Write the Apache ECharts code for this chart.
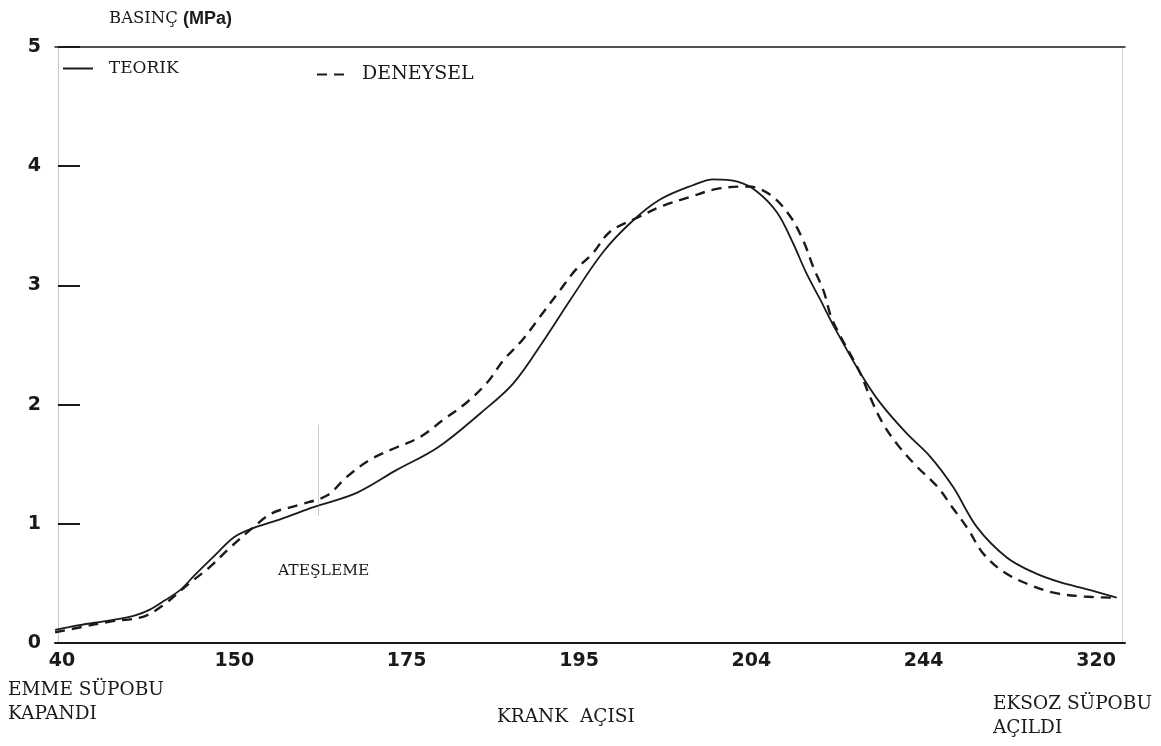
<!DOCTYPE html>
<html>
<head>
<meta charset="utf-8">
<script src="https://cdn.jsdelivr.net/npm/echarts@6/dist/echarts.min.js"></script>
<style>
html,body{margin:0;padding:0;background:#fff;}
#chart{width:1161px;height:746px;}
</style>
</head>
<body>
<div id="chart"></div>
<script>
// x positions are slot indices of the (non-linear) crank-angle tick labels
const xTickLabels = ['40', '150', '175', '195', '204', '244', '320'];
const yTicks = [0, 1, 2, 3, 4, 5];

const teorikX = [-0.04, 0.10, 0.28, 0.42, 0.51, 0.60, 0.69, 0.77, 0.89, 1.00, 1.12, 1.27, 1.46, 1.71, 1.94, 2.18, 2.43, 2.62, 2.81, 2.95, 3.14, 3.31, 3.47, 3.66, 3.78, 3.92, 4.03, 4.15, 4.24, 4.32, 4.40, 4.47, 4.63, 4.75, 4.90, 5.04, 5.17, 5.31, 5.48, 5.64, 5.79, 5.95, 6.12];
const teorikY = [0.11, 0.15, 0.19, 0.23, 0.28, 0.36, 0.45, 0.57, 0.74, 0.89, 0.97, 1.04, 1.14, 1.26, 1.45, 1.64, 1.93, 2.18, 2.57, 2.88, 3.28, 3.54, 3.72, 3.84, 3.89, 3.87, 3.79, 3.61, 3.36, 3.10, 2.88, 2.68, 2.27, 2.01, 1.76, 1.56, 1.31, 0.97, 0.72, 0.59, 0.51, 0.45, 0.38];

const deneyselX = [-0.04, 0.10, 0.28, 0.47, 0.59, 0.73, 0.86, 0.96, 1.11, 1.22, 1.38, 1.54, 1.65, 1.79, 1.94, 2.08, 2.21, 2.35, 2.47, 2.56, 2.67, 2.77, 2.89, 2.98, 3.08, 3.18, 3.34, 3.49, 3.64, 3.80, 3.98, 4.11, 4.22, 4.30, 4.36, 4.42, 4.47, 4.63, 4.69, 4.76, 4.85, 4.96, 5.08, 5.17, 5.26, 5.34, 5.46, 5.61, 5.76, 5.93, 6.10];
const deneyselY = [0.09, 0.13, 0.18, 0.22, 0.32, 0.49, 0.64, 0.78, 0.97, 1.09, 1.16, 1.24, 1.39, 1.54, 1.64, 1.73, 1.87, 2.02, 2.19, 2.37, 2.54, 2.73, 2.96, 3.13, 3.27, 3.45, 3.57, 3.67, 3.74, 3.81, 3.83, 3.76, 3.59, 3.38, 3.15, 2.95, 2.71, 2.27, 2.06, 1.85, 1.66, 1.48, 1.31, 1.13, 0.95, 0.76, 0.60, 0.49, 0.42, 0.39, 0.38];

// ignition marker (ATEŞLEME)
const ignitionX = 1.486;
const ignitionYRange = [1.07, 1.83];

const zip = (xs, ys) => xs.map((x, i) => [x, ys[i]]);

const serif = '"DejaVu Serif", "Liberation Serif", serif';
const sans = '"DejaVu Sans", "Liberation Sans", sans-serif';
const ink = '#1a1a1a';

const chart = echarts.init(document.getElementById('chart'));
chart.setOption({
  backgroundColor: '#ffffff',
  animation: false,
  title: {
    text: '{a|BASINÇ} {b|(MPa)}',
    left: 104, top: 5,
    textStyle: {
      fontWeight: 'normal',
      rich: {
        a: {fontFamily: serif, fontSize: 16.5, fontWeight: 'normal', color: ink},
        b: {fontFamily: '"Liberation Sans", Arial, sans-serif', fontSize: 18, fontWeight: 'bold', color: ink}
      }
    }
  },
  legend: [
    {
      data: ['TEORIK'], left: 62, top: 60, padding: 0, itemWidth: 30, itemHeight: 14,
      itemStyle: {opacity: 0},
      formatter: n => '  ' + n,
      textStyle: {fontFamily: serif, fontSize: 17, color: ink}
    },
    {
      data: ['DENEYSEL'], left: 316, top: 65, padding: 0, itemWidth: 34, itemHeight: 14,
      itemStyle: {opacity: 0},
      formatter: n => ' ' + n,
      textStyle: {fontFamily: serif, fontSize: 19, color: ink}
    }
  ],
  grid: {left: 55, right: 36, top: 47, bottom: 103},
  xAxis: [
    {
      type: 'value', min: -0.0406, max: 6.168,
      axisLine: {show: true, onZero: false, lineStyle: {color: ink, width: 2}},
      axisTick: {show: false},
      splitLine: {show: false},
      axisLabel: {
        customValues: [0, 1, 2, 3, 4, 5, 6],
        formatter: v => xTickLabels[Math.round(v)],
        margin: 9,
        fontFamily: sans, fontSize: 19, fontWeight: 'bold', color: ink
      }
    },
    {
      type: 'value', position: 'top', min: -0.0406, max: 6.168,
      axisLine: {show: true, onZero: false, lineStyle: {color: ink, width: 1.5}},
      axisTick: {show: false}, axisLabel: {show: false}, splitLine: {show: false}
    }
  ],
  yAxis: [
    {
      type: 'value', min: 0, max: 5, interval: 1, offset: -3,
      axisLine: {show: true, onZero: false, lineStyle: {color: '#bbb', width: 1, type: 'dotted'}},
      axisTick: {show: true, inside: true, length: 22, lineStyle: {color: ink, width: 2}},
      splitLine: {show: false},
      axisLabel: {
        margin: 17,
        formatter: v => (yTicks.indexOf(v) >= 0 ? String(v) : ''),
        fontFamily: sans, fontSize: 19, fontWeight: 'bold', color: ink
      }
    },
    {
      type: 'value', position: 'right', min: 0, max: 5, interval: 1, offset: -3,
      axisLine: {show: true, onZero: false, lineStyle: {color: '#ccc', width: 1, type: 'dotted'}},
      axisTick: {show: false}, axisLabel: {show: false}, splitLine: {show: false}
    }
  ],
  series: [
    {
      name: 'TEORIK', type: 'line', data: zip(teorikX, teorikY),
      symbol: 'none', smooth: 0.35,
      lineStyle: {color: ink, width: 1.8},
      itemStyle: {color: ink},
      markLine: {
        silent: true, symbol: 'none',
        lineStyle: {color: '#999', width: 1, type: 'dotted'},
        label: {show: false},
        data: [[{coord: [ignitionX, ignitionYRange[0]]}, {coord: [ignitionX, ignitionYRange[1]]}]]
      }
    },
    {
      name: 'DENEYSEL', type: 'line', data: zip(deneyselX, deneyselY),
      symbol: 'none', smooth: 0.35,
      lineStyle: {color: ink, width: 2.4, type: [10, 7]},
      itemStyle: {color: ink}
    }
  ],
  graphic: [
    {type: 'text', left: 278, top: 563, style: {text: 'ATEŞLEME', font: '15.5px ' + serif, fill: ink}},
    {type: 'text', left: 8, top: 678, style: {text: 'EMME SÜPOBU\nKAPANDI', font: '18.5px ' + serif, fill: ink, lineHeight: 24}},
    {type: 'text', left: 497, top: 708, style: {text: 'KRANK  AÇISI', font: '18.5px ' + serif, fill: ink}},
    {type: 'text', left: 993, top: 692, style: {text: 'EKSOZ SÜPOBU\nAÇILDI', font: '18.5px ' + serif, fill: ink, lineHeight: 24}}
  ]
});
</script>
</body>
</html>
